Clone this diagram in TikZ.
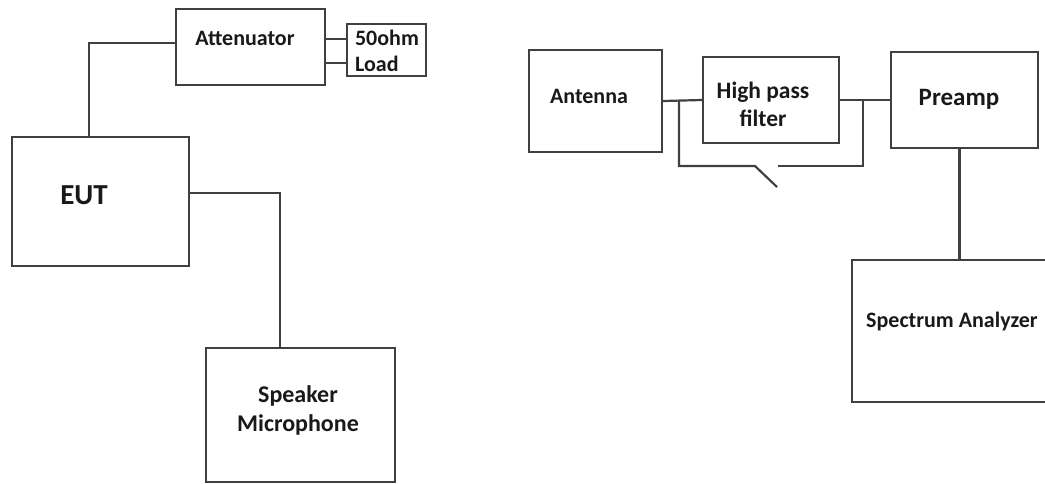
\documentclass[tikz,border=0pt]{standalone}
\usepackage{fontspec}
\setmainfont{Carlito}
\usetikzlibrary{calc}
\tikzset{
    box/.style={draw=black!75, line width=2.2pt, inner sep=0pt},
    txt/.style={font=\bfseries\fontsize{22}{26}\selectfont, text=black!90, inner sep=0pt, align=left},
    wire/.style={draw=black!75, line width=2.2pt}
}
\begin{document}
\begin{tikzpicture}[x=1pt, y=-1pt]
    \useasboundingbox (0,0) rectangle (1045,483);
    \clip (0,0) rectangle (1045,483);
    % left set-up
    \node[box, minimum width=149pt, minimum height=76pt] (att) at (250.5,47) {};
    \node[box, minimum width=79pt, minimum height=52pt] (load) at (386.5,50) {};
    \node[box, minimum width=177pt, minimum height=129pt] (eut) at (100.5,201.5) {};
    \node[box, minimum width=189pt, minimum height=134pt] (spk) at (300.5,415) {};
    \node[txt] (atttxt) at (245,38) {Attenuator};
    \node[txt] (loadtxt) at (387,51) {50ohm\\Load};
    \node[txt, font=\bfseries\fontsize{29}{34}\selectfont] (euttxt) at (84,195) {EUT};
    \node[txt, font=\bfseries\fontsize{24}{29}\selectfont, align=center] (spktxt) at (298,410) {Speaker\\Microphone};

    \draw[wire] ($(eut.north west)!0.435!(eut.north east)$) |- ([yshift=4pt]att.west);
    \draw[wire] ([yshift=8pt]att.east) -- ([yshift=8pt]att.east -| load.west);
    \draw[wire] ([yshift=-16pt]att.east) -- ([yshift=-16pt]att.east -| load.west);
    \draw[wire] ([yshift=8.5pt]eut.east) -| ([xshift=-20.5pt]spk.north);

    % right set-up
    \node[box, minimum width=133pt, minimum height=102pt] (ant) at (595.5,101) {};
    \node[box, minimum width=136pt, minimum height=86pt] (hpf) at (771,100) {};
    \node[box, minimum width=147pt, minimum height=96pt] (pre) at (964.5,100) {};
    \node[box, minimum width=208pt, minimum height=142pt] (spec) at (956,331) {};
    \node[txt] (anttxt) at (589,96) {Antenna};
    \node[txt, font=\bfseries\fontsize{23.5}{28}\selectfont, align=center] (hpftxt) at (763,104) {High pass\\filter};
    \node[txt, font=\bfseries\fontsize{25}{30}\selectfont] (pretxt) at (959,99) {Preamp};
    \node[txt] (spectxt) at (952,322) {Spectrum Analyzer};

    \coordinate (j1) at (679,100);
    \coordinate (j2) at (863,100);
    \coordinate (sw1) at (755,166);
    \coordinate (sw2) at (777,187);
    \coordinate (sw3) at (778,166);

    \draw[wire] (ant.east) -- (hpf.west);
    \draw[wire] (hpf.east) -- (pre.west);
    \draw[wire] (j1) |- (sw1) -- (sw2);
    \draw[wire] (sw3) -| (j2);
    \draw[wire] ([xshift=-5pt]pre.south) -- ([xshift=-5pt]pre.south |- spec.north);
\end{tikzpicture}
\end{document}
